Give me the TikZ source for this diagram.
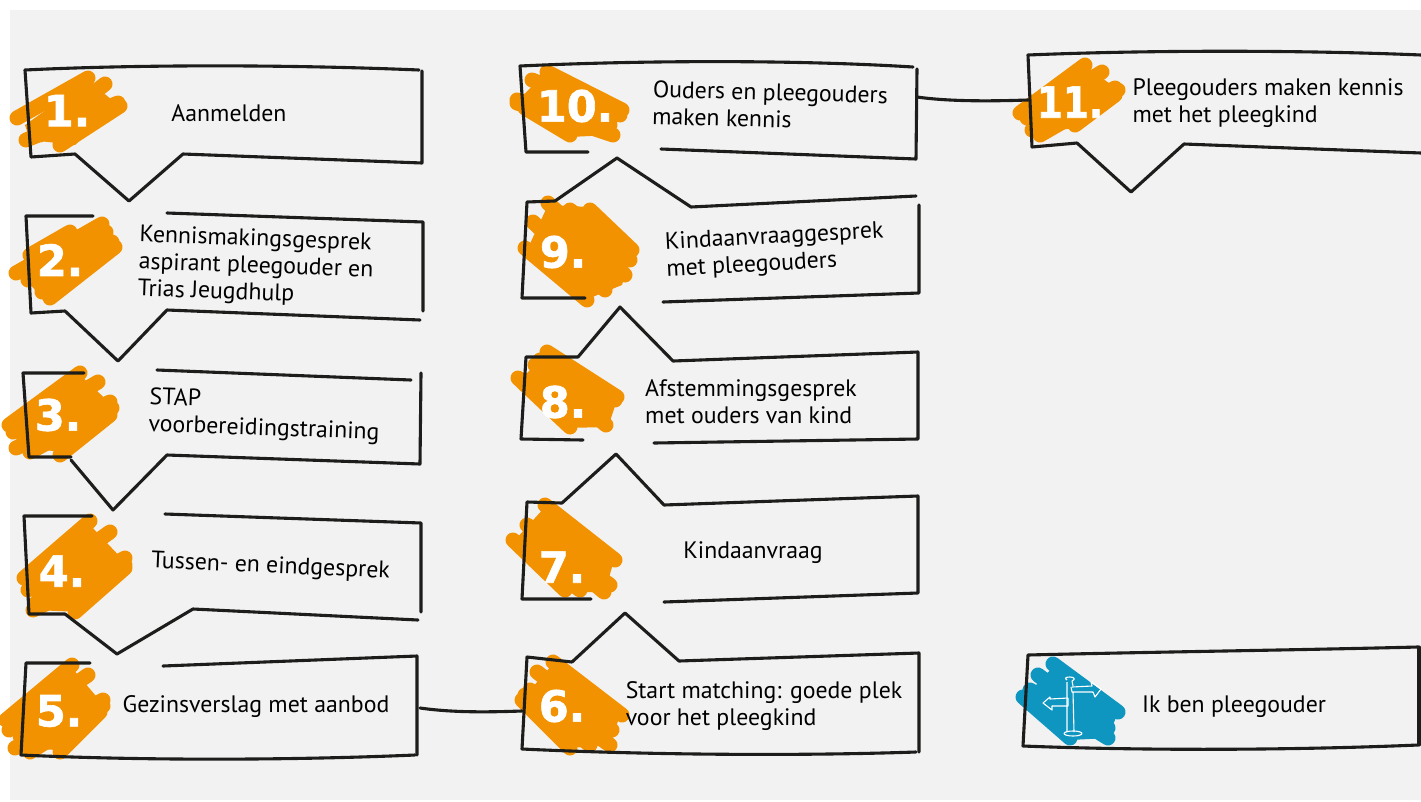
\documentclass[tikz,border=0pt]{standalone}
\usepackage{fontspec}
\setmainfont{PT Sans}
\newfontfamily\numfont[FakeBold=1.5]{DejaVu Sans Bold}
\definecolor{bggray}{HTML}{F2F2F2}
\definecolor{blobor}{HTML}{F39200}
\definecolor{blobbl}{HTML}{0E95C0}
\definecolor{ink}{HTML}{1D1D1B}
\tikzset{
  outline/.style={draw=ink,line width=3.1pt,line join=round,line cap=round},
  linkline/.style={draw=ink,line width=3.1pt,line cap=round},
  scrib/.style={line width=15pt,line cap=round},
  orangescrib/.style={scrib,draw=blobor,fill=blobor},
  bluescrib/.style={scrib,draw=blobbl,fill=blobbl},
  label/.style={inner sep=0pt,align=left,text=black,font=\fontsize{23.8}{27}\selectfont},
  numlabel/.style={inner sep=0pt,text=white,font=\numfont\fontsize{43}{43}\selectfont},
  iconline/.style={draw=white,line width=1.1pt,line join=round}
}
\begin{document}
\begin{tikzpicture}[x=1pt,y=-1pt]
\path[use as bounding box] (0,0) rectangle (1421,801);
\fill[bggray] (10,10) rectangle (1421,800);
% scribbles
\begin{scope}[orangescrib]
\fill (25,125)--(88,80)--(118,105)--(75,145)--(30,140)--cycle;
\draw (17,118)--(88,78) (40,135)--(105,84) (26,140)--(118,103) (60,145)--(120,106) (50,105)--(75,90);
\fill (20,272)--(50,235)--(100,225)--(112,245)--(55,295)--(35,290)--cycle;
\draw (16,273)--(102,224) (30,255)--(70,232) (28,280)--(106,232) (42,292)--(112,242) (50,298)--(115,247);
\fill (12,428)--(80,375)--(112,405)--(65,452)--(20,448)--cycle;
\draw (9,425)--(80,373) (13,432)--(98,382) (16,448)--(110,402) (30,452)--(112,408) (60,455)--(110,415);
\fill (28,580)--(90,525)--(125,562)--(80,612)--(35,610)--cycle;
\draw (24,578)--(90,521) (28,590)--(110,532) (36,603)--(125,558) (33,610)--(125,565) (75,612)--(125,568);
\fill (10,722)--(72,668)--(102,703)--(58,750)--(15,748)--cycle;
\draw (6,720)--(72,665) (9,730)--(88,675) (15,748)--(103,700) (30,752)--(103,706) (60,752)--(100,712);
\fill (523,698)--(553,664)--(620,715)--(610,745)--(570,748)--cycle;
\draw (553,662)--(622,715) (537,672)--(612,730) (530,690)--(610,745) (522,700)--(570,748) (525,695)--(590,745);
\fill (515,540)--(545,507)--(614,560)--(605,592)--(565,592)--cycle;
\draw (545,505)--(615,560) (527,525)--(610,585) (530,530)--(604,592) (513,540)--(565,590) (520,545)--(580,590);
\fill (520,380)--(547,353)--(618,397)--(608,427)--(565,428)--cycle;
\draw (547,352)--(617,397) (535,365)--(606,425) (525,385)--(600,420) (518,378)--(570,427) (540,360)--(615,400);
\fill (528,248)--(548,205)--(590,207)--(632,250)--(622,285)--(590,298)--cycle;
\draw (590,210)--(632,250) (570,210)--(630,260) (548,203)--(625,275) (533,222)--(605,290) (525,248)--(587,300);
\fill (518,100)--(547,72)--(622,110)--(610,135)--(570,137)--cycle;
\draw (547,72)--(622,110) (532,80)--(620,115) (517,100)--(610,125) (517,103)--(613,135) (525,108)--(570,135);
\fill (1022,113)--(1085,65)--(1118,90)--(1075,128)--(1035,133)--cycle;
\draw (1020,113)--(1085,65) (1027,118)--(1102,72) (1032,130)--(1115,88) (1040,135)--(1118,90) (1075,125)--(1115,95);
\end{scope}
\begin{scope}[bluescrib]
\fill (1025,697)--(1053,667)--(1118,712)--(1108,738)--(1070,740)--cycle;
\draw (1053,664)--(1118,712) (1038,675)--(1108,728) (1030,690)--(1108,738) (1023,697)--(1070,738);
\end{scope}
% outlines
\draw[outline] (25,70) .. controls (150,64) and (300,65) .. (419,70);
\draw[outline] (422,71)--(422,163)--(183,154)--(129,201)--(75,154)--(31,157)--(25,70);
\draw[outline] (93,216)--(26,216)--(31,313)--(65,311)--(118,361)--(167,310)--(420,320);
\draw[outline] (167,213)--(423,222)--(423,311);
\draw[outline] (84,373)--(23,373)--(29,457)--(71,457);
\draw[outline] (71,460)--(113,510)--(167,455)--(420,464)--(421,373);
\draw[outline] (157,370)--(411,380);
\draw[outline] (92,516)--(24,516)--(29,614)--(65,614)--(117,654)--(193,609)--(418,620);
\draw[outline] (165,514)--(421,523)--(421,612);
\draw[outline] (90,663)--(26,663)--(21,755) .. controls (150,761) and (300,760) .. (415,755);
\draw[outline] (163,666)--(417,656)--(417,755);
\draw[outline] (572,662)--(527,657)--(522,749) .. controls (650,755) and (800,756) .. (916,752);
\draw[outline] (572,662)--(625,613)--(679,661)--(919,653)--(919,752);
\draw[outline] (591,599)--(522,599)--(527,502)--(562,503)--(616,454)--(664,505)--(918,496)--(918,593)--(664,602);
\draw[outline] (583,440)--(521,439)--(526,357)--(578,357)--(620,307)--(673,361)--(918,352)--(918,439)--(654,443);
\draw[outline] (585,298)--(522,298)--(527,202)--(555,201)--(617,158)--(691,207)--(916,196);
\draw[outline] (919,205)--(919,293)--(663,302);
\draw[outline] (588,152)--(526,152)--(520,66) .. controls (650,60) and (800,60) .. (913,67);
\draw[outline] (917,69)--(916,159)--(661,149);
\draw[outline] (1421,55) .. controls (1300,50) and (1150,50) .. (1028,55)--(1032,147)--(1077,143)--(1131,192)--(1184,144)--(1421,153);
\draw[outline] (1418,647) .. controls (1300,650) and (1150,652) .. (1028,655)--(1023,746) .. controls (1150,751) and (1300,750) .. (1418,745);
\draw[outline] (1419,647)--(1419,745);
% connectors
\coordinate (fiveout) at (420,708);
\coordinate (sixin) at (522,711);
\coordinate (tenout) at (917,97);
\coordinate (elevenin) at (1028,100);
\draw[linkline] (fiveout) .. controls +(35,5) and +(-30,1) .. (sixin);
\draw[linkline] (tenout) .. controls +(35,5) and +(-30,1) .. (elevenin);
% signpost icon
\begin{scope}[iconline]
\draw (1067,682)--(1067,732) (1073,692)--(1074,732);
\draw (1067,680) .. controls (1064,678) and (1066,677) .. (1070,677) .. controls (1074,677) and (1076,679) .. (1072,681) -- (1073,686);
\draw (1072,687)--(1092,686)--(1091,682)--(1101,689)--(1095,697)--(1093,692)--(1072,692)--(1071,687);
\draw (1068,698)--(1050,699)--(1050,697)--(1043,703)--(1052,710)--(1052,706)--(1068,706)--(1068,698);
\draw (1073,733.5) ellipse (9pt and 2.5pt);
\end{scope}
% numbers
\node[numlabel] (n1) at (67,110.5) {1.};
\node[numlabel] (n2) at (60,260) {2.};
\node[numlabel] (n3) at (58,415) {3.};
\node[numlabel] (n4) at (62,571) {4.};
\node[numlabel] (n5) at (59,711) {5.};
\node[numlabel] (n6) at (562,706) {6.};
\node[numlabel] (n7) at (562,567) {7.};
\node[numlabel] (n8) at (563,402) {8.};
\node[numlabel] (n9) at (563,252) {9.};
\node[numlabel] (n10) at (575,106) {10.};
\node[numlabel] (n11) at (1070,102) {\scalebox{.87}[1]{11.}};
% labels
\node[label] (t1) at (229,113.5) {Aanmelden};
\node[label,rotate=-2] (t2) at (256,267) {Kennismakingsgesprek\\aspirant pleegouder en\\Trias Jeugdhulp};
\node[label,rotate=-2] (t3) at (264.5,416) {STAP\\voorbereidingstraining};
\node[label,rotate=-2.5] (t4) at (270.5,567) {Tussen- en eindgesprek};
\node[label] (t5) at (256,707) {Gezinsverslag met aanbod};
\node[label] (t6) at (764,706) {Start matching: goede plek\\voor het pleegkind};
\node[label] (t7) at (753,553) {Kindaanvraag};
\node[label] (t8) at (751,401.5) {Afstemmingsgesprek\\met ouders van kind};
\node[label,rotate=3] (t9) at (775,251) {Kindaanvraaggesprek\\met pleegouders};
\node[label,rotate=-1.5] (t10) at (770,105.5) {Ouders en pleegouders\\maken kennis};
\node[label] (t11) at (1268,103) {Pleegouders maken kennis\\met het pleegkind};
\node[label] (t12) at (1234,707) {Ik ben pleegouder};
\end{tikzpicture}
\end{document}
